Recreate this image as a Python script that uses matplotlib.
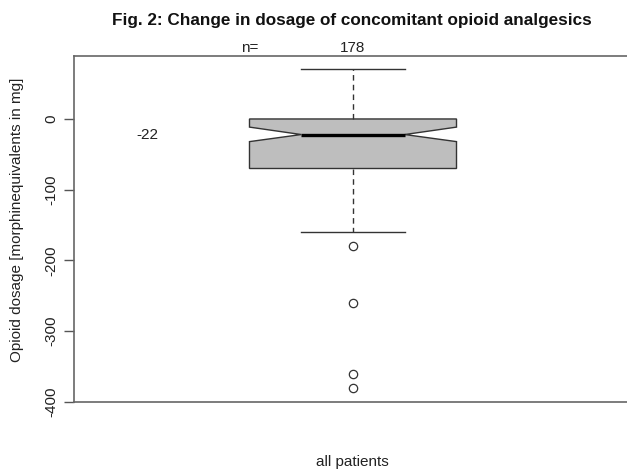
import matplotlib
matplotlib.use("Agg")
import matplotlib.pyplot as plt

# summary statistics of the change in dosage (mg morphine equivalents)
MEDIAN = -22
Q1, Q3 = -70, 0
WHISKER_LOW, WHISKER_HIGH = -160, 70
NOTCH_LOW, NOTCH_HIGH = -32, -11.5
OUTLIERS = [-180, -260, -360, -380]
N_PATIENTS = 178
GROUP = "all patients"
Y_TICKS = [0, -100, -200, -300, -400]

plt.rcParams["font.family"] = ["Liberation Sans", "DejaVu Sans"]

W, H = 627, 469
FS = 11
fig = plt.figure(figsize=(W / 100, H / 100), dpi=100)
# the plot region runs past the right edge of the figure, as in the original
ax = fig.add_axes([74 / W, (H - 402) / H, 558 / W, 346 / H])

stats = [{
    "med": MEDIAN, "q1": Q1, "q3": Q3,
    "whislo": WHISKER_LOW, "whishi": WHISKER_HIGH,
    "cilo": NOTCH_LOW, "cihi": NOTCH_HIGH,
    "fliers": OUTLIERS, "label": GROUP,
}]
edge = "#333333"
ax.bxp(
    stats, positions=[1], widths=0.742, capwidths=0.37,
    shownotches=True, patch_artist=True,
    boxprops=dict(facecolor="#bebebe", edgecolor=edge, linewidth=1.0),
    medianprops=dict(color="black", linewidth=2.4, solid_capstyle="butt"),
    whiskerprops=dict(color=edge, linewidth=1.0, linestyle=(0, (4, 3))),
    capprops=dict(color=edge, linewidth=1.0),
    flierprops=dict(marker="o", markersize=6, markerfacecolor="none",
                    markeredgecolor=edge, markeredgewidth=0.9),
)

ax.set_xlim(0, 2)
ax.set_ylim(-399.5, 89)
ax.set_yticks(Y_TICKS)
ax.set_yticklabels([str(t) for t in Y_TICKS], rotation=90, va="center",
                   fontsize=FS, color="#222222")
ax.tick_params(axis="y", length=7, width=1.0, color="#555555", pad=4)
ax.set_xticks([])
for side in ("left", "top", "bottom"):
    ax.spines[side].set_color("#666666")
    ax.spines[side].set_linewidth(1.2)
ax.spines["right"].set_visible(False)

ax.text(0.262, MEDIAN, str(MEDIAN), ha="center", va="center",
        fontsize=FS, color="#222222")
ax.text(0.63, 101, "n=", ha="center", va="center", fontsize=FS,
        color="#222222", clip_on=False)
ax.text(1.0, 101, str(N_PATIENTS), ha="center", va="center", fontsize=FS,
        color="#222222", clip_on=False)

fig.text(352 / W, 1 - 21 / H,
         "Fig. 2: Change in dosage of concomitant opioid analgesics",
         ha="center", va="center", fontsize=12.3, fontweight="bold",
         color="#111111")
fig.text(17 / W, 1 - 220 / H, "Opioid dosage [morphinequivalents in mg]",
         rotation=90, ha="center", va="center", fontsize=FS, color="#222222")
fig.text(352 / W, 1 - 462 / H, GROUP, ha="center", va="center",
         fontsize=FS, color="#222222")

fig.savefig("out.png", dpi=100, facecolor="white")
